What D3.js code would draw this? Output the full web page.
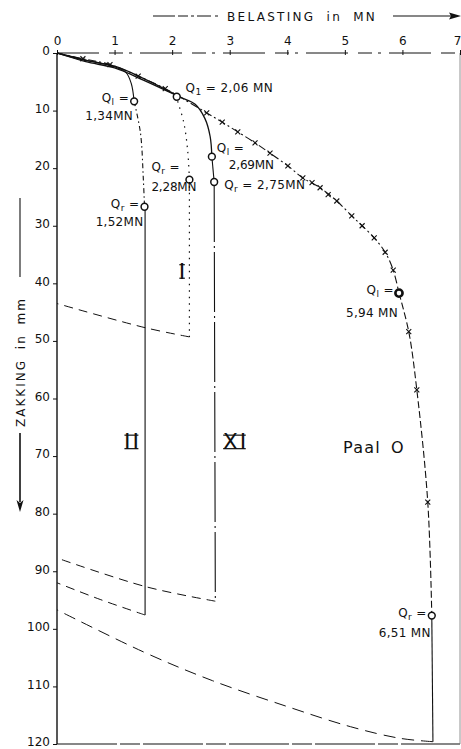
<!DOCTYPE html>
<html>
<head>
<meta charset="utf-8">
<script src="https://cdn.jsdelivr.net/npm/d3@7"></script>
<style>
  html, body { margin: 0; padding: 0; background: #fff; }
  svg { display: block; }
  text { font-family: "DejaVu Sans", sans-serif; fill: #111; }
</style>
</head>
<body>
<svg id="chart" width="461" height="749"></svg>
<script>
// ---------- data (belasting in MN, zakking in mm) ----------
const loadTicks = [0, 1, 2, 3, 4, 5, 6, 7];
const zakkingTicks = [0, 10, 20, 30, 40, 50, 60, 70, 80, 90, 100, 110, 120];

// Paal O
const pile0Load = [[0,0],[0.45,1.0],[0.92,2.0],[1.41,4.0],[1.88,6.2],[2.2,8.0],[2.6,10.4],[2.87,12.0],[3.14,13.7],[3.44,15.6],[3.70,17.4],[4.01,19.6],[4.27,21.7],[4.57,23.4],[4.86,25.7],[5.12,28.3],[5.30,30.0],[5.51,32.1],[5.70,34.6],[5.84,37.7],[5.94,41.7]];
const pile0Creep = [[5.94,41.7],[6.11,48.4],[6.25,58.5],[6.44,78.0],[6.51,97.7]];
const pile0Vert = [[6.51,97.7],[6.53,119.6]];
const pile0Unload = [[6.53,119.6],[5.95,119.0],[5.1,117.0],[4.0,113.5],[2.7,109.0],[1.5,104.0],[0,96.7]];
const pile0Marks = [[0.45,1.0],[0.92,2.0],[1.41,4.0],[1.88,6.2],[2.6,10.4],[2.87,12.0],[3.14,13.7],[3.44,15.6],[3.70,17.4],[4.01,19.6],[4.27,21.7],[4.43,22.5],[4.57,23.4],[4.71,24.6],[4.86,25.7],[5.12,28.3],[5.30,30.0],[5.51,32.1],[5.70,34.6],[5.84,37.7],[6.11,48.4],[6.25,58.5],[6.44,78.0]];

// Paal XI
const pileXILoad = [[0,0],[0.5,1.3],[1.0,2.3],[1.5,4.4],[1.9,6.4],[2.15,7.7],[2.40,8.9],[2.57,11.4],[2.66,14.5],[2.69,18.0]];
const pileXIQr = [[2.69,18.0],[2.73,22.4]];
const pileXIVert = [[2.73,22.4],[2.75,95.2]];
const pileXIUnload = [[2.75,95.2],[1.55,92.7],[0,87.7]];

// Paal I
const pileILoad = [[0,0],[0.5,1.5],[1.0,2.6],[1.5,4.7],[2.06,7.3]];
const pileICreep = [[2.06,7.3],[2.2,12.0],[2.27,17.0],[2.3,22.0]];
const pileIVert = [[2.3,22.0],[2.3,49.3]];
const pileIUnload = [[2.3,49.3],[1.53,47.7],[0,43.5]];

// Paal II
const pileIILoad = [[0,0],[0.5,1.2],[1.0,2.4],[1.2,3.4],[1.29,5.3],[1.34,8.4]];
const pileIICreep = [[1.34,8.4],[1.45,13.9],[1.5,22.0],[1.52,26.7]];
const pileIIVert = [[1.53,26.7],[1.53,97.6]];
const pileIIUnload = [[1.53,97.6],[0.75,94.9],[0,92.0]];

// circles: [load, zakking, bold]
const openCircles = [[1.34,8.4,0],[1.52,26.7,0],[2.3,22.0,0],[2.69,18.0,0],[2.73,22.4,0],[5.94,41.7,1],[6.51,97.7,0],[2.08,7.6,0]];

// annotations
const annLines = [
  {q:"l", t:"=", x:1.34, y:8.4, lines:["1,34MN"], pos:"left", dy2:0},
  {q:"r", t:"=", x:1.52, y:26.7, lines:["1,52MN"], pos:"left", dy2:0},
  {q:"r", t:"=", x:2.3, y:22.0, lines:["2,28MN"], pos:"leftAbove", dy2:0},
  {q:"1", t:"= 2,06 MN", x:2.06, y:7.3, lines:[], pos:"right", dy2:-3},
  {q:"l", t:"=", x:2.69, y:18.0, lines:["2,69MN"], pos:"rightAbove", dy2:0},
  {q:"r", t:"= 2,75MN", x:2.73, y:22.4, lines:[], pos:"right", dy2:7},
  {q:"l", t:"=", x:5.94, y:41.7, lines:["5,94 MN"], pos:"left", dy2:5},
  {q:"r", t:"=", x:6.51, y:97.7, lines:["6,51 MN"], pos:"left", dy2:2}
];
const pileLabels = [["I",2.19,39.2],["II",1.31,68.8],["XI",3.1,68.8]];

// ---------- drawing ----------
const svg = d3.select("#chart");
const x = d3.scaleLinear().domain([0, 7]).range([57, 460]);
const y = d3.scaleLinear().domain([0, 120]).range([53, 744]);

const line = d3.line().x(d => x(d[0])).y(d => y(d[1])).curve(d3.curveCatmullRom.alpha(0.5));
const straight = d3.line().x(d => x(d[0])).y(d => y(d[1]));

function path(data, dash, w, gen) {
  svg.append("path").attr("d", (gen || line)(data))
    .attr("fill", "none").attr("stroke", "#111")
    .attr("stroke-width", w || 1.1)
    .attr("stroke-dasharray", dash || null);
}

// frame
svg.append("line").attr("x1", x(0)).attr("x2", x(0)).attr("y1", y(0)).attr("y2", y(120)).attr("stroke", "#111").attr("stroke-width", 1.4);
svg.append("line").attr("x1", x(0)).attr("x2", x(7)).attr("y1", y(120)).attr("y2", y(120)).attr("stroke", "#111").attr("stroke-width", 1.2).attr("stroke-dasharray", "60,3,20,3");
svg.append("line").attr("x1", x(0)).attr("x2", x(7)).attr("y1", y(0)).attr("y2", y(0)).attr("stroke", "#111").attr("stroke-width", 1).attr("stroke-dasharray", "42,10,14,6,3,8");
svg.append("line").attr("x1", x(7)).attr("x2", x(7)).attr("y1", y(0)).attr("y2", y(120)).attr("stroke", "#777").attr("stroke-width", 0.8);

// axes
const topAx = svg.append("g").attr("transform", `translate(0,${y(0)})`)
  .call(d3.axisTop(x).tickValues(loadTicks).tickSize(3).tickPadding(5).tickFormat(d3.format("d")));
topAx.select(".domain").remove();
topAx.selectAll("text").attr("font-size", 12).attr("font-family", "DejaVu Sans").attr("fill", "#111")
  .attr("dx", d => d === 7 ? -3 : 0);
topAx.selectAll("line").attr("stroke", "#111").attr("y2", -3).attr("y1", 2);

const leftAx = svg.append("g").attr("transform", `translate(${x(0)},0)`)
  .call(d3.axisLeft(y).tickValues(zakkingTicks).tickSize(4).tickPadding(3).tickFormat(d3.format("d")));
leftAx.select(".domain").remove();
leftAx.selectAll("text").attr("font-size", 12).attr("font-family", "DejaVu Sans").attr("fill", "#111").attr("dy", "0.15em");
leftAx.selectAll("line").attr("stroke", "#111");

// axis titles
const gT = svg.append("g");
gT.append("line").attr("x1", 153).attr("x2", 219).attr("y1", 16).attr("y2", 16).attr("stroke", "#111").attr("stroke-dasharray", "22,3,10,3,3,3,14,4,3");
gT.append("text").attr("x", 227).attr("y", 21).attr("font-size", 12).attr("letter-spacing", 2.3)
  .attr("word-spacing", 5).text("BELASTING in MN");
gT.append("line").attr("x1", 393).attr("x2", 452).attr("y1", 16).attr("y2", 16).attr("stroke", "#111").attr("stroke-width", 1.2);
gT.append("path").attr("d", "M461,16 L449,12.5 L451,16 L449,19.5 Z").attr("fill", "#111");

const gL = svg.append("g");
gL.append("line").attr("x1", 20).attr("x2", 20).attr("y1", 198).attr("y2", 277).attr("stroke", "#111").attr("stroke-width", 1.1);
gL.append("text").attr("transform", "translate(25,357) rotate(-90)").attr("x", -70).attr("text-anchor", "start")
  .attr("font-size", 12).attr("letter-spacing", 2).attr("word-spacing", 4).text("ZAKKING in mm");
gL.append("line").attr("x1", 20).attr("x2", 20).attr("y1", 433).attr("y2", 502).attr("stroke", "#111").attr("stroke-width", 1.6);
gL.append("path").attr("d", "M20,512 L16.5,500 L20,503 L23.5,500 Z").attr("fill", "#111");

// curves
path(pileIILoad, null, 1.1);
path(pileIICreep, "5,3,1.5,3", 1.1);
path(pileIIVert, null, 1.1, straight);
path(pileIIUnload, "9,6", 1.0);
path(pileILoad, null, 1.3);
path(pileICreep, "1.5,5", 1.2);
path(pileIVert, "1.5,5", 1.2, straight);
path(pileIUnload, "9,6", 1.0);
path(pileXILoad, null, 1.3);
path(pileXIQr, null, 1.1, straight);
path(pileXIVert, "60,4,2,4", 1.1, straight);
path(pileXIUnload, "9,6", 1.0);
path(pile0Load, "8,3,2,3", 1.1);
path(pile0Creep, "7,3", 1.1);
path(pile0Vert, null, 1.1, straight);
path(pile0Unload, "12,7", 1.0);

// x markers
const mk = svg.append("g");
pile0Marks.forEach(d => {
  const cx = x(d[0]), cy = y(d[1]);
  mk.append("path").attr("d", `M${cx-2.5},${cy-2.5}L${cx+2.5},${cy+2.5}M${cx-2.5},${cy+2.5}L${cx+2.5},${cy-2.5}`)
    .attr("stroke", "#111").attr("stroke-width", 1.1);
});

// circles
openCircles.forEach(d => {
  svg.append("circle").attr("cx", x(d[0])).attr("cy", y(d[1])).attr("r", d[2] ? 3.6 : 3.4)
    .attr("fill", "#fff").attr("stroke", "#111").attr("stroke-width", d[2] ? 2.6 : 1.5);
});

// annotations
function qText(g, tx, ty, anchor, q, t) {
  const el = g.append("text").attr("x", tx).attr("y", ty).attr("text-anchor", anchor).attr("font-size", 12).attr("letter-spacing", 0.4);
  el.append("tspan").text("Q");
  el.append("tspan").attr("font-size", 9).attr("dy", 3).text(q);
  el.append("tspan").attr("dy", -3).text(" " + t);
  return el;
}
const ga = svg.append("g");
annLines.forEach(a => {
  const cx = x(a.x), cy = y(a.y);
  if (a.pos === "left") {
    qText(ga, cx - 5, cy + 1, "end", a.q, a.t);
    a.lines.forEach(s => ga.append("text").attr("x", cx - 1).attr("y", cy + 19 + a.dy2).attr("text-anchor", "end").attr("font-size", 12).attr("letter-spacing", 0.3).text(s));
  } else if (a.pos === "leftAbove") {
    qText(ga, cx - 38, cy - 9, "start", a.q, a.t);
    a.lines.forEach(s => ga.append("text").attr("x", cx - 38).attr("y", cy + 11).attr("text-anchor", "start").attr("font-size", 12).attr("letter-spacing", -0.2).text(s));
  } else if (a.pos === "rightAbove") {
    qText(ga, cx + 5, cy - 5, "start", a.q, a.t);
    a.lines.forEach(s => ga.append("text").attr("x", cx + 17).attr("y", cy + 12).attr("text-anchor", "start").attr("font-size", 12).attr("letter-spacing", -0.2).text(s));
  } else {
    qText(ga, cx + 10, cy + a.dy2, "start", a.q, a.t);
  }
});

// pile labels (roman numerals with joined serif bars)
pileLabels.forEach(p => {
  const fs = 22, ls = 2;
  const t = svg.append("text").attr("x", x(p[1])).attr("y", y(p[2])).attr("text-anchor", "middle")
    .attr("font-family", "Liberation Serif").attr("font-size", fs).attr("letter-spacing", ls).text(p[0]);
  const bb = t.node().getBBox();
  const base = y(p[2]);
  const capTop = base - fs * 0.66;
  [capTop + 0.5, base - 0.5].forEach(yy => {
    svg.append("line").attr("x1", bb.x + 0.5).attr("x2", bb.x + bb.width - ls - 0.5)
      .attr("y1", yy).attr("y2", yy).attr("stroke", "#111").attr("stroke-width", 1.2);
  });
});
svg.append("text").attr("x", 343).attr("y", 453).attr("font-size", 16).attr("letter-spacing", 1.2).attr("word-spacing", 4).text("Paal O");
</script>
</body>
</html>
